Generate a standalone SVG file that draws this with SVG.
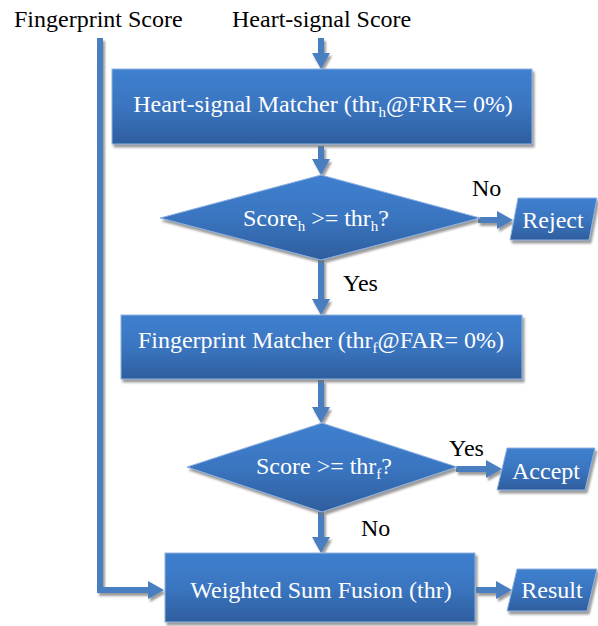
<svg xmlns="http://www.w3.org/2000/svg" width="598" height="626" viewBox="0 0 598 626">
<defs>
<linearGradient id="g" x1="0" y1="0" x2="0" y2="1">
<stop offset="0" stop-color="#3f80cf"/>
<stop offset="0.5" stop-color="#3a75c0"/>
<stop offset="1" stop-color="#2e5e9e"/>
</linearGradient>
<filter id="sh" x="-10%" y="-10%" width="130%" height="140%">
<feDropShadow dx="2" dy="3" stdDeviation="1.2" flood-color="#707070" flood-opacity="0.7"/>
</filter>
<marker id="ah" markerUnits="userSpaceOnUse" markerWidth="16" markerHeight="18" refX="8" refY="9" orient="auto">
<path d="M0,0 L16,9 L0,18 Z" fill="#4a7fc1"/>
</marker>
</defs>
<style>
.n{fill:url(#g);stroke:#8fb2e0;stroke-width:1;filter:url(#sh)}
text{font-family:"Liberation Serif","Times New Roman",serif;font-size:24px}
.t{fill:#ffffff;text-anchor:middle}
.s{font-size:15px}
.k{fill:#000000}
.c{fill:none;stroke:#4a7fc1;stroke-width:6;marker-end:url(#ah)}
</style>
<rect width="598" height="626" fill="#ffffff"/>
<g id="labels">
<text class="k" x="14" y="27">Fingerprint Score</text>
<text class="k" x="232" y="27">Heart-signal Score</text>
<text class="k" x="472" y="196">No</text>
<text class="k" x="343" y="291">Yes</text>
<text class="k" x="449" y="456">Yes</text>
<text class="k" x="361" y="536">No</text>
</g>
<g id="connectors" filter="url(#sh)">
<path class="c" d="M321,38 V61"/>
<path class="c" d="M321,146 V167"/>
<path class="c" d="M478,220 H505"/>
<path class="c" d="M321,260 V307"/>
<path class="c" d="M321,380 V415"/>
<path class="c" d="M456,469 H494"/>
<path class="c" d="M321,512 V545"/>
<path class="c" d="M100,38 V590 H156"/>
<path class="c" d="M476,590 H504"/>
</g>
<g id="heart-matcher">
<rect class="n" x="112" y="69" width="420" height="75"/>
<text class="t" x="323" y="112">Heart-signal Matcher (thr<tspan class="s" dy="5">h</tspan><tspan dy="-5">@FRR= 0%)</tspan></text>
</g>
<g id="decision-heart">
<polygon class="n" points="321,175 480,218 321,260 160,218"/>
<text class="t" x="316" y="226">Score<tspan class="s" dy="5">h</tspan><tspan dy="-5"> &gt;= thr</tspan><tspan class="s" dy="5">h</tspan><tspan dy="-5">?</tspan></text>
</g>
<g id="reject">
<polygon class="n" points="518,198 597,198 589,240 510,240"/>
<text class="t" x="553" y="228">Reject</text>
</g>
<g id="fingerprint-matcher">
<rect class="n" x="121" y="315" width="401" height="64"/>
<text class="t" x="321" y="348">Fingerprint Matcher (thr<tspan class="s" dy="5">f</tspan><tspan dy="-5">@FAR= 0%)</tspan></text>
</g>
<g id="decision-fingerprint">
<polygon class="n" points="322,423 457,467 322,512 187,467"/>
<text class="t" x="324" y="474">Score &gt;= thr<tspan class="s" dy="5">f</tspan><tspan dy="-5">?</tspan></text>
</g>
<g id="accept">
<polygon class="n" points="507,448 595,448 585,490 497,490"/>
<text class="t" x="546" y="479">Accept</text>
</g>
<g id="fusion">
<rect class="n" x="165" y="553" width="310" height="69"/>
<text class="t" x="321" y="598">Weighted Sum Fusion (thr)</text>
</g>
<g id="result">
<polygon class="n" points="517,569 597,569 587,611 507,611"/>
<text class="t" x="552" y="598">Result</text>
</g>
</svg>
